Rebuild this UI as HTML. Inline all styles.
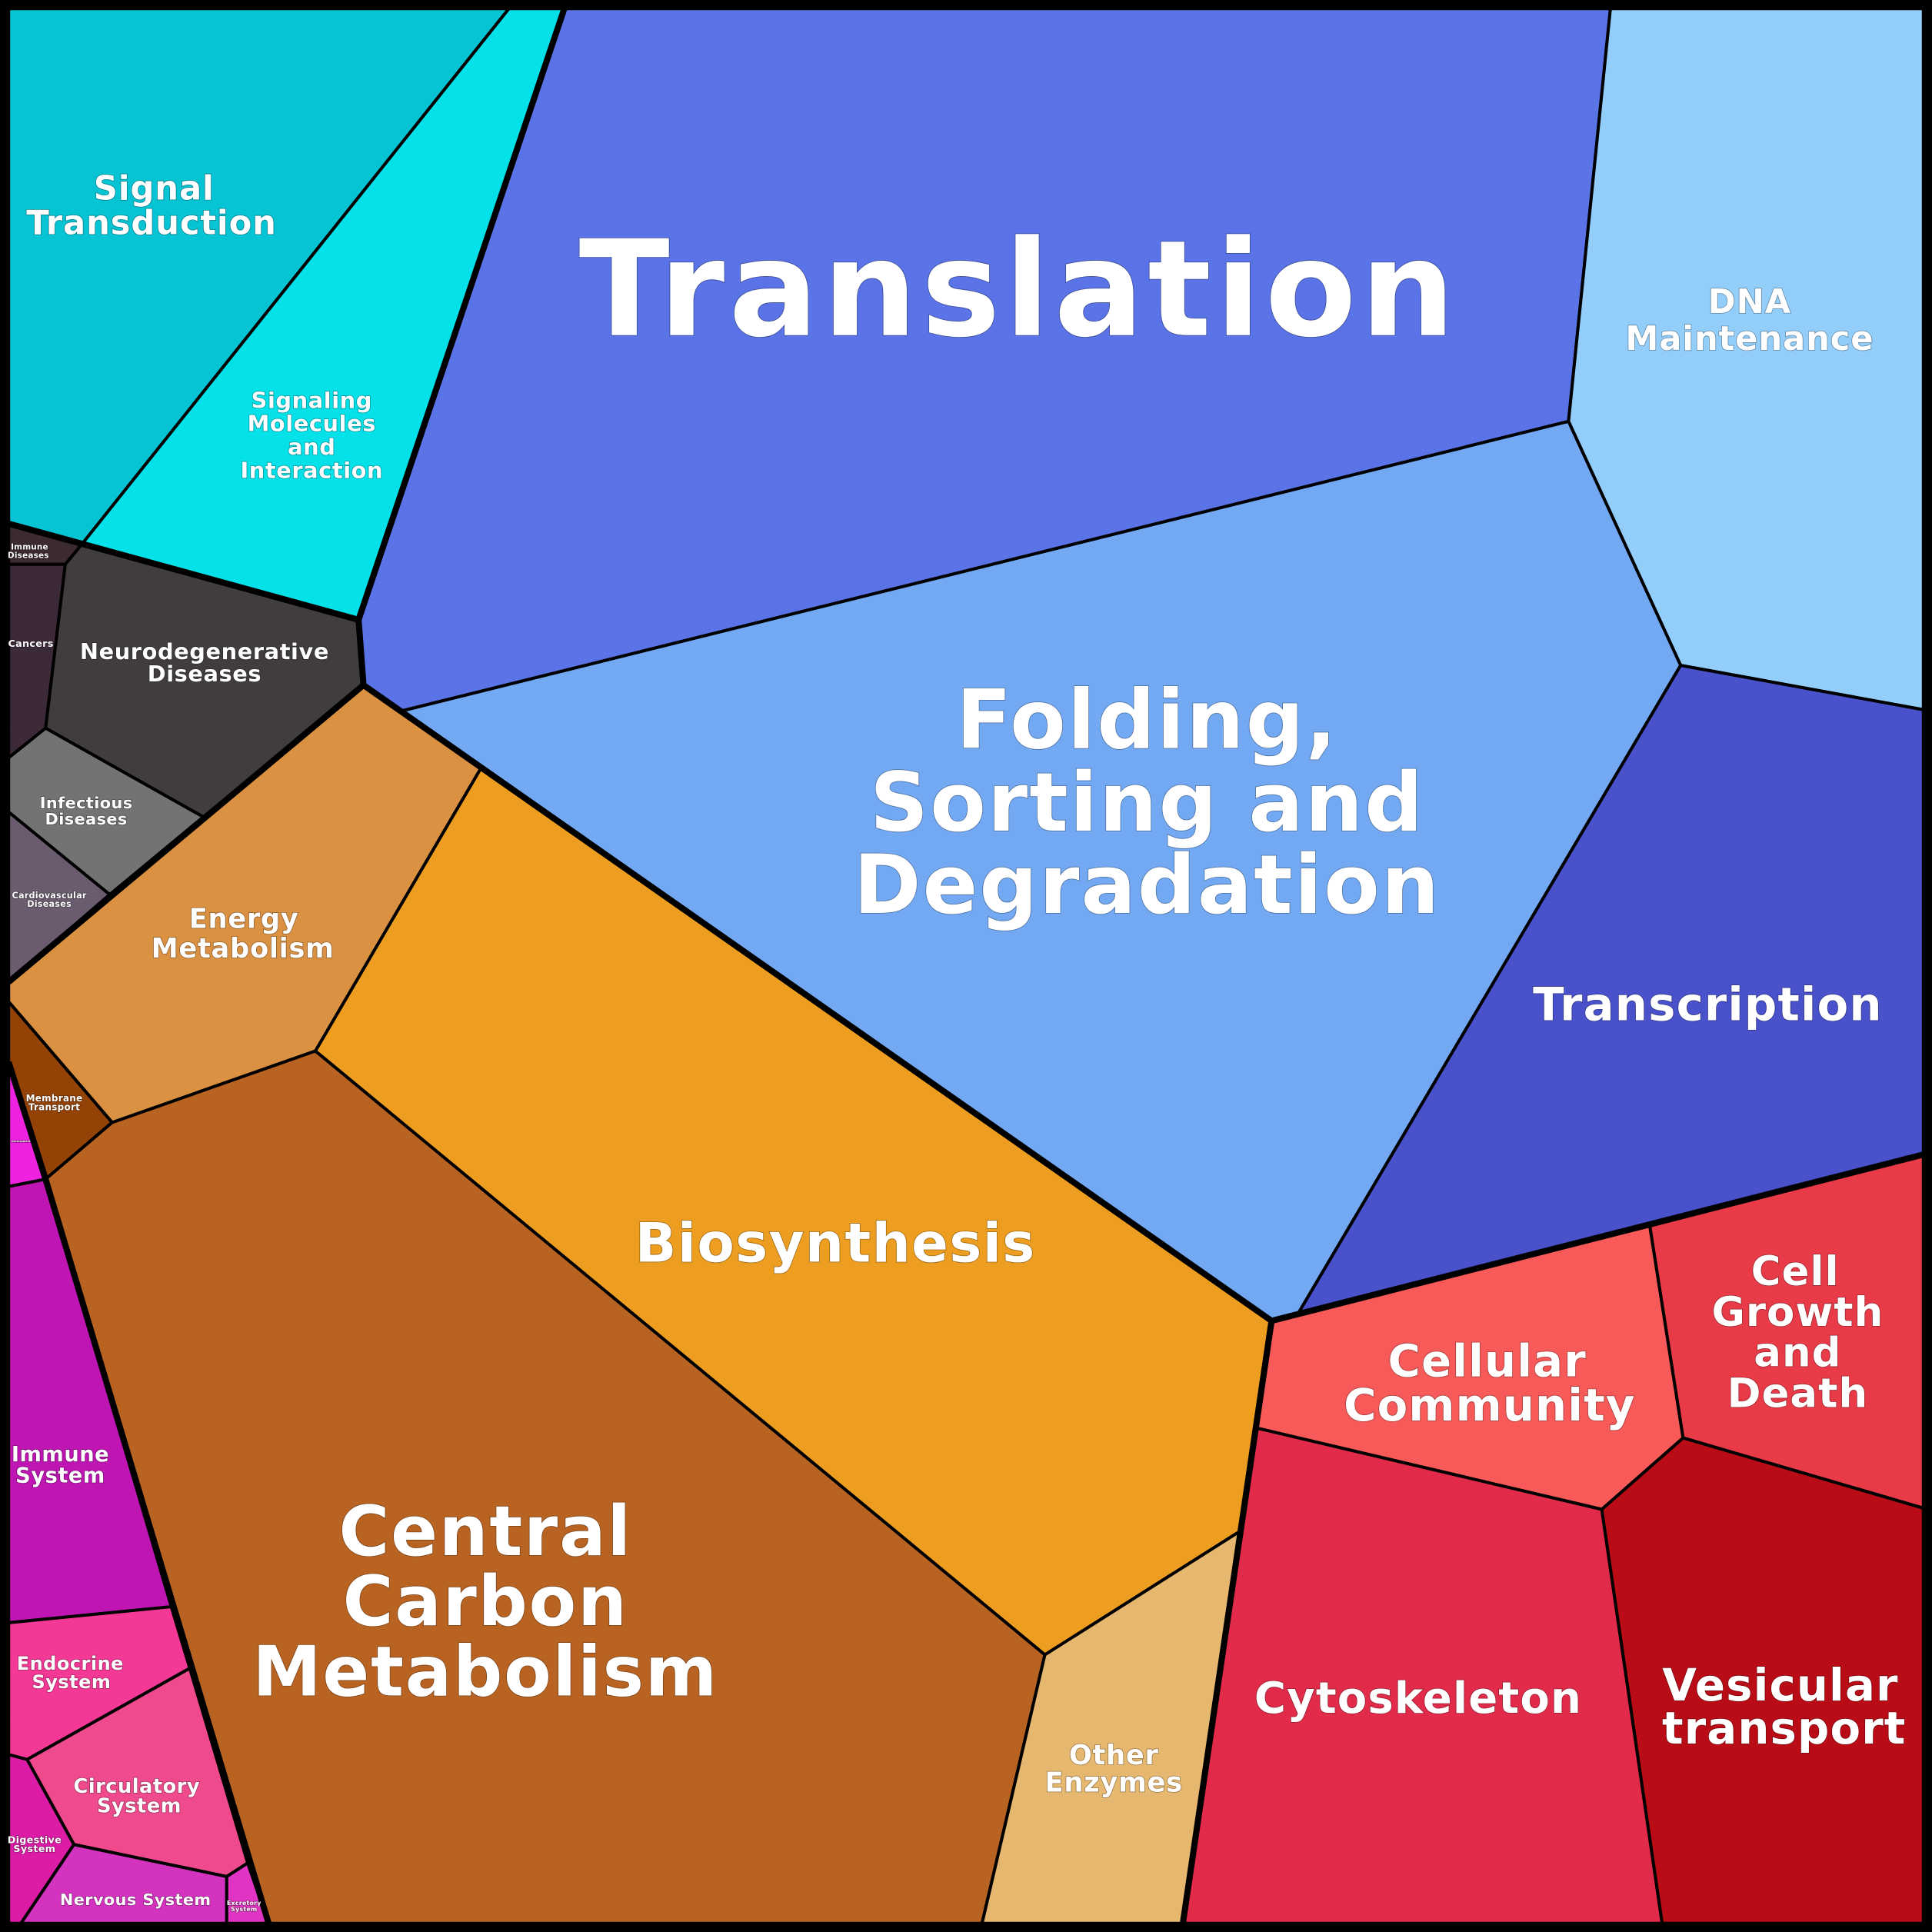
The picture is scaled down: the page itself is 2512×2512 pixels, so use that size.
<!DOCTYPE html>
<html><head><meta charset="utf-8"><style>html,body{margin:0;padding:0;background:#000}svg{display:block}
text{font-family:"DejaVu Sans","Liberation Sans",sans-serif;font-weight:bold;fill:#fff;text-anchor:middle;paint-order:stroke;stroke:rgba(0,0,0,0.35);stroke-width:1px;letter-spacing:0.02em}</style></head>
<body>
<svg width="2512" height="2512" viewBox="0 0 1568 1568" xmlns="http://www.w3.org/2000/svg">
<rect x="0" y="0" width="1568" height="1568" fill="#000"/>
<g stroke="#000" stroke-width="2.5" stroke-linejoin="round">
<polygon fill="#06c4d4" points="7,7 413,7 67,441 7,425"/>
<polygon fill="#04e1e8" points="413,7 458,7 291,503 67,441"/>
<polygon fill="#5a73e6" points="458,7 1307,7 1273,342 326,577 295,556 291,503"/>
<polygon fill="#93cefb" points="1307,7 1561,7 1561,576 1364,540 1273,342"/>
<polygon fill="#72a9f2" points="326,577 1273,342 1364,540 1053,1067 1032,1072 295,556"/>
<polygon fill="#4951cb" points="1364,540 1561,576 1561,937 1053,1067"/>
<polygon fill="#3b2a30" points="7,425 67,441 53,458 7,458"/>
<polygon fill="#3d2a38" points="7,458 53,458 37,591 7,615"/>
<polygon fill="#413d3e" points="53,458 67,441 291,503 295,556 165,663 37,591"/>
<polygon fill="#737373" points="7,615 37,591 165,663 89,726 7,659"/>
<polygon fill="#6b5b6f" points="7,659 89,726 7,797"/>
<polygon fill="#da9142" points="7,797 295,556 390,624 256,853 91,911 7,813"/>
<polygon fill="#944307" points="7,813 91,911 37,957 7,862"/>
<polygon fill="#ed9d1f" points="390,624 1032,1072 1006,1243 848,1343 256,853"/>
<polygon fill="#b96322" points="256,853 848,1343 797,1561 218,1561 37,957 91,911"/>
<polygon fill="#e6b76f" points="848,1343 1006,1243 960,1561 797,1561"/>
<polygon fill="#f75a58" points="1032,1072 1339,995 1366,1167 1300,1225 1020,1159"/>
<polygon fill="#e83a47" points="1339,995 1561,937 1561,1224 1366,1167"/>
<polygon fill="#e22b4a" points="1020,1159 1300,1225 1349,1561 960,1561"/>
<polygon fill="#b90c16" points="1300,1225 1366,1167 1561,1224 1561,1561 1349,1561"/>
<polygon fill="#ef22df" points="7,862 37,957 7,963"/>
<polygon fill="#bf15b3" points="7,963 37,957 139,1304 7,1317"/>
<polygon fill="#f43896" points="7,1317 139,1304 154,1354 22,1428 7,1424"/>
<polygon fill="#ef4a8d" points="22,1428 154,1354 201,1512 184,1523 60,1497"/>
<polygon fill="#dc1ba7" points="7,1424 22,1428 60,1497 17,1561 7,1561"/>
<polygon fill="#d433c0" points="60,1497 184,1523 184,1561 17,1561"/>
<polygon fill="#e234c4" points="184,1523 201,1512 218,1561 184,1561"/>
</g>
<g stroke="#000" stroke-width="5" fill="none" stroke-linejoin="round">
<polyline points="7,425 291,503 458,7"/>
<polyline points="291,503 295,556 1032,1072 1561,937"/>
<polyline points="7,797 295,556"/>
<polyline points="1032,1072 960,1561"/>
<polyline points="37,957 218,1561"/>
<polyline points="7,862 37,957"/>
</g>
<rect x="3.5" y="3.5" width="1561" height="1561" fill="none" stroke="#000" stroke-width="7"/>
<text font-size="108" x="827" y="272" style="letter-spacing:0.03em">Translation</text>
<text font-size="66"><tspan x="931" y="607">Folding,</tspan><tspan x="931" y="674">Sorting and</tspan><tspan x="931" y="741">Degradation</tspan></text>
<text font-size="56"><tspan x="394" y="1262">Central</tspan><tspan x="394" y="1319">Carbon</tspan><tspan x="394" y="1376">Metabolism</tspan></text>
<text font-size="44" x="678" y="1024">Biosynthesis</text>
<text font-size="37" x="1386" y="828">Transcription</text>
<text font-size="27"><tspan x="1420" y="254">DNA</tspan><tspan x="1420" y="284">Maintenance</tspan></text>
<text font-size="27"><tspan x="125" y="162">Signal</tspan><tspan x="123" y="190">Transduction</tspan></text>
<text font-size="18"><tspan x="253" y="331">Signaling</tspan><tspan x="253" y="350">Molecules</tspan><tspan x="253" y="369">and</tspan><tspan x="253" y="388">Interaction</tspan></text>
<text font-size="18"><tspan x="166" y="535">Neurodegenerative</tspan><tspan x="166" y="553">Diseases</tspan></text>
<text font-size="6.5"><tspan x="24" y="446">Immune</tspan><tspan x="23" y="453">Diseases</tspan></text>
<text font-size="8" x="25" y="525">Cancers</text>
<text font-size="13"><tspan x="70" y="656">Infectious</tspan><tspan x="70" y="669">Diseases</tspan></text>
<text font-size="7"><tspan x="40" y="729">Cardiovascular</tspan><tspan x="40" y="736">Diseases</tspan></text>
<text font-size="22"><tspan x="198" y="753">Energy</tspan><tspan x="197" y="777">Metabolism</tspan></text>
<text font-size="7.5"><tspan x="44" y="894">Membrane</tspan><tspan x="44" y="901">Transport</tspan></text>
<text font-size="2" x="17" y="927">Development</text>
<text font-size="22"><tspan x="904" y="1432">Other</tspan><tspan x="904" y="1454">Enzymes</tspan></text>
<text font-size="36"><tspan x="1207" y="1117">Cellular</tspan><tspan x="1209" y="1153">Community</tspan></text>
<text font-size="33"><tspan x="1457" y="1043">Cell</tspan><tspan x="1459" y="1076">Growth</tspan><tspan x="1459" y="1109">and</tspan><tspan x="1459" y="1142">Death</tspan></text>
<text font-size="35" x="1151" y="1390">Cytoskeleton</text>
<text font-size="36"><tspan x="1445" y="1380">Vesicular</tspan><tspan x="1448" y="1415">transport</tspan></text>
<text font-size="17"><tspan x="49" y="1186">Immune</tspan><tspan x="49" y="1203">System</tspan></text>
<text font-size="15"><tspan x="57" y="1355">Endocrine</tspan><tspan x="58" y="1370">System</tspan></text>
<text font-size="16"><tspan x="111" y="1455">Circulatory</tspan><tspan x="113" y="1471">System</tspan></text>
<text font-size="8"><tspan x="28" y="1496">Digestive</tspan><tspan x="28" y="1503">System</tspan></text>
<text font-size="13" x="110" y="1546">Nervous System</text>
<text font-size="5"><tspan x="198" y="1546">Excretory</tspan><tspan x="198" y="1551">System</tspan></text>
</svg>
</body></html>
